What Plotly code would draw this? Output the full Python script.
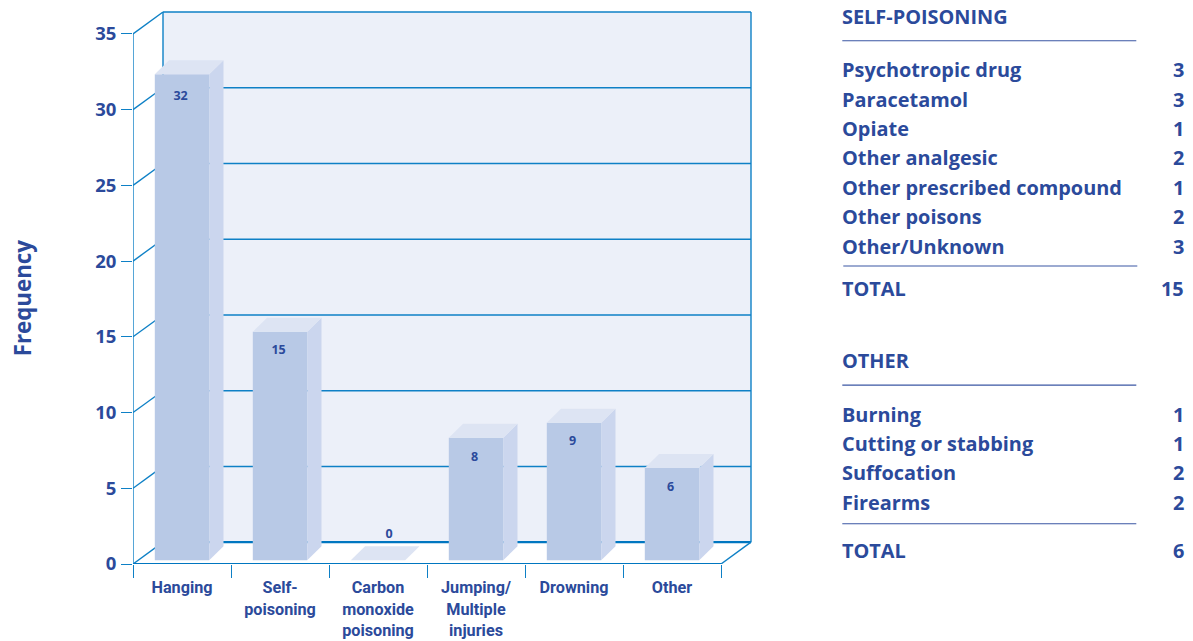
import plotly.graph_objects as go

# ---- data ----
categories = ["Hanging", "Self-<br>poisoning", "Carbon<br>monoxide<br>poisoning",
              "Jumping/<br>Multiple<br>injuries", "Drowning", "Other"]
values = [32, 15, 0, 8, 9, 6]
y_ticks = [0, 5, 10, 15, 20, 25, 30, 35]
y_title = "Frequency"

self_poison_title = "SELF-POISONING"
self_poison_labels = ["Psychotropic drug", "Paracetamol", "Opiate", "Other analgesic",
                      "Other prescribed compound", "Other poisons", "Other/Unknown"]
self_poison_counts = [3, 3, 1, 2, 1, 2, 3]
self_poison_total = 15
other_title = "OTHER"
other_labels = ["Burning", "Cutting or stabbing", "Suffocation", "Firearms"]
other_counts = [1, 1, 2, 2]
other_total = 6

# ---- style / geometry ----
W, H = 1193, 641
L, T, B = 132.7, 8.3, 563.7      # plot rectangle in page pixels
R = 754.7
CAT_PX = 98.0
UNIT_PX = 15.13
TEXT = "#2B4A9B"
LINE = "#0E80C6"
FLOOR_LINE = "#0076C0"
WALL = "#ECF0F9"
FRONT = "#B8C9E6"
SIDE = "#CBD6EE"
TOP = "#DDE4F3"
FONT = "Open Sans"
label_drop_px = [22.5, 19, -25, 20.5, 19, 20]   # value label distance below the bar top

DX, DY = 30 / CAT_PX, 21.8 / UNIT_PX        # wall depth in data units
BW = 54.4 / CAT_PX                          # bar width
BDX, BDY = 14.3 / CAT_PX, 14.0 / UNIT_PX    # bar depth
FLOOR = 3.7 / UNIT_PX                       # bars stand slightly in front of the axis
LIFT = 1.3 / UNIT_PX

x0, x1 = -0.5, len(categories) - 0.5
ymax = y_ticks[-1]
xs = list(range(len(categories)))
tops = [v + FLOOR + (LIFT if v > 0 else 0) for v in values]

shapes = []
def seg(xa, ya, xb, yb, color=LINE, width=1.4):
    shapes.append(dict(type="line", xref="x", yref="y", x0=xa, y0=ya, x1=xb, y1=yb,
                       line=dict(color=color, width=width), layer="below"))

# back wall
shapes.append(dict(type="rect", xref="x", yref="y", x0=x0 + DX, x1=x1 + DX, y0=DY, y1=ymax + DY,
                   fillcolor=WALL, line=dict(width=0), layer="below"))
for t in y_ticks:
    w = 2.2 if t == 0 else 1.4
    c = FLOOR_LINE if t == 0 else LINE
    seg(x0 + DX, t + DY, x1 + DX, t + DY, c, w)
    seg(x0, t, x0 + DX, t + DY)
seg(x0 + DX, DY, x0 + DX, ymax + DY)
seg(x1 + DX, DY, x1 + DX, ymax + DY)
seg(x1, 0, x1 + DX, DY)

# table
def px(x): return (x - L) / (R - L)
def py(y): return (B - y) / (B - T)

ann = []
def txt(x, y, s, anchor="left"):
    ann.append(dict(xref="paper", yref="paper", x=px(x), y=py(y), text=s, showarrow=False,
                    xanchor=anchor, yanchor="middle", font=dict(family=FONT, size=19.9, color=TEXT)))
def rule(xa, xb, y):
    shapes.append(dict(type="line", xref="paper", yref="paper", x0=px(xa), x1=px(xb), y0=py(y), y1=py(y),
                       line=dict(color="#3A56A3", width=1.2)))

def b(s): return f"<b>{s}</b>"
LX, RX = 839.5, 1186
txt(LX, 17, b(self_poison_title)); rule(842, 1136, 41)
for lab, cnt, yy in zip(self_poison_labels, self_poison_counts, [70, 99.5, 129, 158, 188, 217, 246.5]):
    txt(LX, yy, b(lab)); txt(RX, yy, b(cnt), "right")
rule(843, 1137, 266)
txt(LX, 288.5, b("TOTAL")); txt(RX, 288.5, b(self_poison_total), "right")
txt(LX, 360.5, b(other_title)); rule(842, 1136, 385)
for lab, cnt, yy in zip(other_labels, other_counts, [414, 443.5, 472.5, 502]):
    txt(LX, yy, b(lab)); txt(RX, yy, b(cnt), "right")
rule(842, 1136, 523.5)
txt(LX, 550.5, b("TOTAL")); txt(RX, 550.5, b(other_total), "right")

ann.append(dict(xref="paper", yref="paper", x=px(22), y=py(298), text=b(y_title), textangle=-90,
                showarrow=False, xanchor="center", yanchor="middle",
                font=dict(family=FONT, size=22.3, color=TEXT)))

fig = go.Figure()
fig.add_trace(go.Bar(x=xs, y=[t - FLOOR for t in tops], base=FLOOR, width=BW,
                     marker=dict(color=FRONT, line=dict(width=0)), hoverinfo="skip", showlegend=False))

def poly(px_, py_, color):
    fig.add_trace(go.Scatter(x=px_, y=py_, mode="lines", fill="toself", fillcolor=color,
                             line=dict(width=0), hoverinfo="skip", showlegend=False))

for x, v, t in zip(xs, values, tops):
    xl, xr = x - BW / 2, x + BW / 2
    if v > 0:
        poly([xr, xr + BDX, xr + BDX, xr, xr], [FLOOR, FLOOR + BDY, t + BDY, t, FLOOR], SIDE)
    poly([xl, xr, xr + BDX, xl + BDX, xl], [t, t, t + BDY, t + BDY, t], TOP)

# front axis lines (not clipped at the plot edge)
fig.add_trace(go.Scatter(x=[x0, x1], y=[0, 0], mode="lines", line=dict(color=FLOOR_LINE, width=2.2),
                         cliponaxis=False, hoverinfo="skip", showlegend=False))
fig.add_trace(go.Scatter(x=[x0, x0], y=[0, ymax], mode="lines", line=dict(color=LINE, width=1.4),
                         cliponaxis=False, hoverinfo="skip", showlegend=False))

# value labels
lab_x = [x - 1.4 / CAT_PX if v > 0 else x + 11 / CAT_PX for x, v in zip(xs, values)]
lab_y = [t - d / UNIT_PX for t, d in zip(tops, label_drop_px)]
fig.add_trace(go.Scatter(x=lab_x, y=lab_y, mode="text", text=[f"<b>{v}</b>" for v in values],
                         textposition="middle center", textfont=dict(family=FONT, size=12.5, color=TEXT),
                         hoverinfo="skip", showlegend=False, cliponaxis=False))

fig.update_layout(
    width=W, height=H, margin=dict(l=L, r=W - R, t=T, b=H - B, pad=0, autoexpand=False),
    paper_bgcolor="white", plot_bgcolor="white", showlegend=False, shapes=shapes, annotations=ann,
    xaxis=dict(range=[x0, x0 + (R - L) / CAT_PX], tickmode="array", tickvals=xs,
               ticktext=[f"<b>{c}</b>" for c in categories], showgrid=False, zeroline=False, showline=False,
               ticks="outside", ticklen=9, tickcolor="rgba(0,0,0,0)",
               tickfont=dict(family="Roboto", size=16.2, color=TEXT),
               minor=dict(tickmode="array", tickvals=[x0 + i for i in range(len(categories) + 1)],
                          ticks="outside", ticklen=13, tickwidth=1.4, tickcolor=LINE)),
    yaxis=dict(range=[0, (B - T) / UNIT_PX], tickmode="array", tickvals=y_ticks,
               ticktext=[f"<b>{t}</b>" for t in y_ticks], showgrid=False, zeroline=False, showline=False,
               ticks="outside", ticklen=11, tickwidth=1.4, tickcolor=LINE, ticklabelstandoff=1,
               tickfont=dict(family=FONT, size=18.5, color=TEXT)),
)
fig.write_html("out.html", config=dict(displayModeBar=False),
               post_script="document.body.style.margin='0';document.body.style.overflow='hidden';")
